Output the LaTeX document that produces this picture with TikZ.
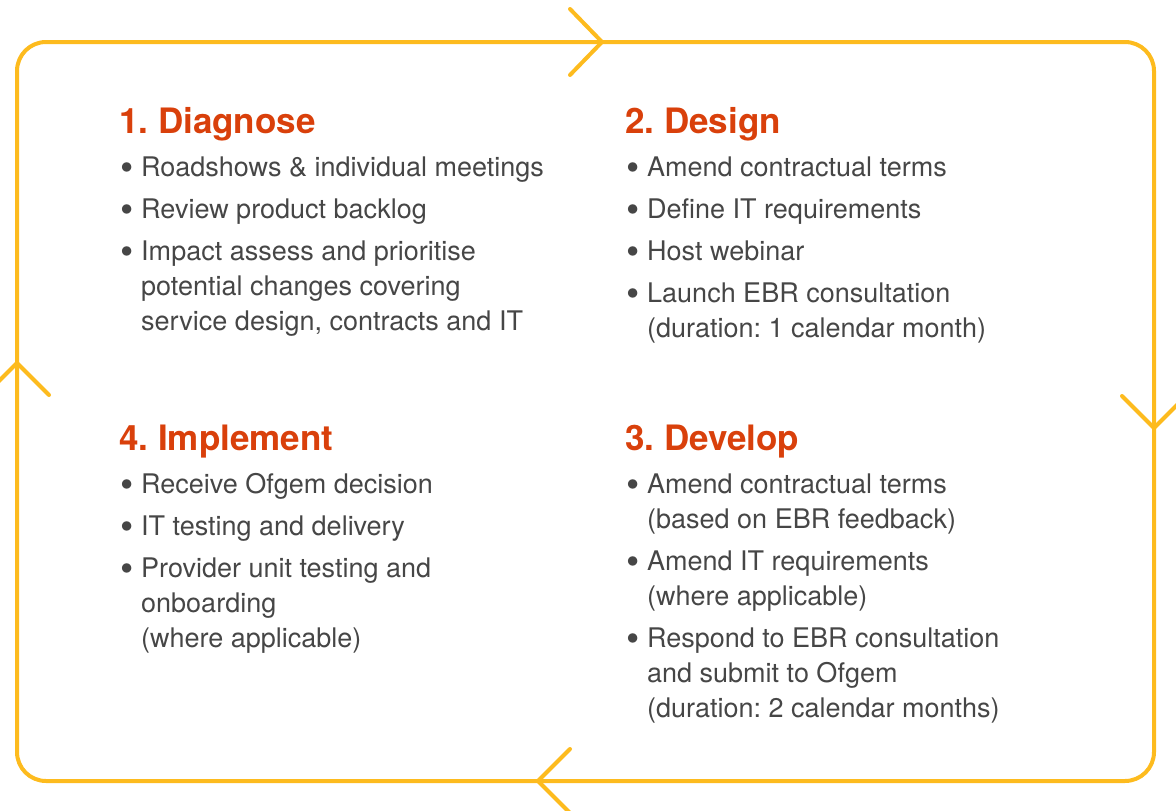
\documentclass[tikz,border=0pt]{standalone}
\usepackage{fontspec}
\usepackage{graphicx}
\setmainfont{TeX Gyre Heros}
\usetikzlibrary{positioning}

\definecolor{ringyellow}{HTML}{FDBB1E}
\definecolor{steporange}{HTML}{D9400B}
\definecolor{bodygrey}{HTML}{464646}
\newcommand{\blob}{\raisebox{-4pt}{\scalebox{1.4}{\textbullet}}}

\begin{document}
\frenchspacing
\begin{tikzpicture}[
      x=1pt, y=-1pt,
      ring/.style={draw=ringyellow, line width=4pt, line cap=round, line join=round},
      head/.style={anchor=base west, inner sep=0pt, text=steporange, font=\fontsize{35}{40}\selectfont\bfseries},
      body/.style={inner sep=0pt, text=bodygrey, font=\fontsize{27}{35}\selectfont}]
    \useasboundingbox (0,0) rectangle (1176,811);
    % cycle frame with direction chevrons
    \draw[ring, rounded corners=29pt] (17,42) rectangle (1154,781);
    \coordinate (cT) at (602,42);
    \coordinate (cR) at (1154,428);
    \coordinate (cB) at (538,781);
    \coordinate (cL) at (17,363);
    \draw[ring] (cT) ++(-32,-33) -- (cT) -- ++(-32,33);
    \draw[ring] (cR) ++(-32,-32) -- (cR) -- ++(32,-32);
    \draw[ring] (cB) ++(32,-32) -- (cB) -- ++(32,32);
    \draw[ring] (cL) ++(-32,32) -- (cL) -- ++(32,32);

    % step titles
    \node[head] (diag) at (119,133) {1. Diagnose};
    \node[head] (desi) at (625,133) {2. Design};
    \node[head] (impl) at (119,450) {4. Implement};
    \node[head] (deve) at (625,450) {3. Develop};

    % step contents
    \node[body, below right=18.5pt and 1pt of diag.base west] (diagtxt) {%
      \begin{tabular}{@{}p{21pt}@{}l@{}}
        \blob & Roadshows \& individual meetings\\[7pt]
        \blob & Review product backlog\\[7pt]
        \blob & Impact assess and prioritise\\
              & potential changes covering\\
              & service design, contracts and IT
      \end{tabular}};
    \node[body, below right=18.5pt and 1pt of desi.base west] (desitxt) {%
      \begin{tabular}{@{}p{21pt}@{}l@{}}
        \blob & Amend contractual terms\\[7pt]
        \blob & Define IT requirements\\[7pt]
        \blob & Host webinar\\[7pt]
        \blob & Launch EBR consultation\\
              & (duration: 1 calendar month)
      \end{tabular}};
    \node[body, below right=18.5pt and 1pt of impl.base west] (impltxt) {%
      \begin{tabular}{@{}p{21pt}@{}l@{}}
        \blob & Receive Ofgem decision\\[7pt]
        \blob & IT testing and delivery\\[7pt]
        \blob & Provider unit testing and\\
              & onboarding\\
              & (where applicable)
      \end{tabular}};
    \node[body, below right=18.5pt and 1pt of deve.base west] (devetxt) {%
      \begin{tabular}{@{}p{21pt}@{}l@{}}
        \blob & Amend contractual terms\\
              & (based on EBR feedback)\\[7pt]
        \blob & Amend IT requirements\\
              & (where applicable)\\[7pt]
        \blob & Respond to EBR consultation\\
              & and submit to Ofgem\\
              & (duration: 2 calendar months)
      \end{tabular}};
  \end{tikzpicture}
\end{document}
